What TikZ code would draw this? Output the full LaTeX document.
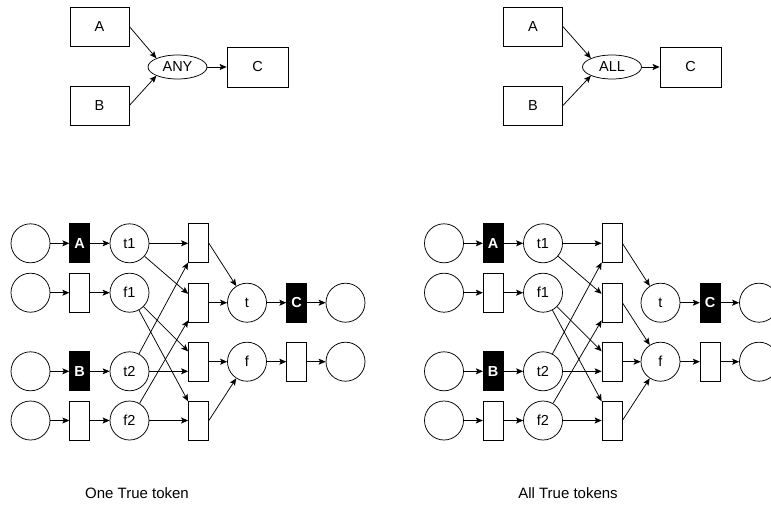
\documentclass[tikz,border=0pt]{standalone}
\usepackage{fontspec}
\setmainfont{Liberation Sans}
\usetikzlibrary{arrows.meta,shapes.geometric}
\begin{document}
\begin{tikzpicture}[x=1pt,y=-1pt,
  every node/.style={font=\fontsize{14.5}{16}\selectfont, inner sep=0pt, line width=0.75pt},
  blk/.style={draw, minimum width=59pt, minimum height=39pt},
  ov/.style={draw, ellipse, minimum width=59pt, minimum height=24pt},
  pl/.style={draw, circle, minimum size=39pt},
  tr/.style={draw, minimum width=20pt, minimum height=39pt},
  trb/.style={tr, fill=black, text=white, font=\fontsize{14.5}{16}\selectfont\bfseries},
  arr/.style={line width=0.75pt, -{Stealth[length=7pt,width=6pt,inset=1.5pt]}},
  captxt/.style={font=\fontsize{15}{18}\selectfont}]
\clip (0,0) rectangle (771,504);
\fill[white] (0,0) rectangle (771,504);
% top diagrams
\node[blk] (lA) at (99.5,26.5) {A};
\node[blk] (lB) at (99.5,105.5) {B};
\node[ov] (lany) at (177.5,67) {ANY};
\node[blk, minimum width=61pt, minimum height=40pt] (lC) at (257.5,67) {C};
\draw[arr] (lA.east) -- (lany.north west);
\draw[arr] (lB.east) -- (lany.south west);
\draw[arr] (lany) -- (lC);
\node[blk] (rA) at (533,26.5) {A};
\node[blk] (rB) at (533,105.5) {B};
\node[ov] (rall) at (612,67) {ALL};
\node[blk, minimum width=61pt, minimum height=40pt] (rC) at (690.5,67) {C};
\draw[arr] (rA.east) -- (rall.north west);
\draw[arr] (rB.east) -- (rall.south west);
\draw[arr] (rall) -- (rC);
% bottom nets
\foreach \p/\dx in {L/0,R/413.5}{
  \node[pl] (\p p1) at (\dx+30.5,243.3) {};
  \node[trb] (\p A) at (\dx+79.7,243.3) {A};
  \node[pl] (\p t1) at (\dx+129.5,243.3) {t1};
  \node[pl] (\p p2) at (\dx+30.5,292.7) {};
  \node[tr] (\p x2) at (\dx+79.7,292.7) {};
  \node[pl] (\p f1) at (\dx+129.5,292.7) {f1};
  \node[pl] (\p p3) at (\dx+30.5,371.3) {};
  \node[trb] (\p B) at (\dx+79.7,371.3) {B};
  \node[pl] (\p t2) at (\dx+129.5,371.3) {t2};
  \node[pl] (\p p4) at (\dx+30.5,420.5) {};
  \node[tr] (\p x4) at (\dx+79.7,420.5) {};
  \node[pl] (\p f2) at (\dx+129.5,420.5) {f2};
  \node[tr] (\p T1) at (\dx+198.5,243.3) {};
  \node[tr] (\p T2) at (\dx+198.5,302.7) {};
  \node[tr] (\p T3) at (\dx+198.5,361.7) {};
  \node[tr] (\p T4) at (\dx+198.5,420.5) {};
  \node[pl] (\p t) at (\dx+247,302.7) {t};
  \node[pl] (\p f) at (\dx+247,361.7) {f};
  \node[trb] (\p C) at (\dx+296.7,302.7) {C};
  \node[tr] (\p X) at (\dx+296.7,361.7) {};
  \node[pl] (\p o1) at (\dx+345.5,302.7) {};
  \node[pl] (\p o2) at (\dx+345.5,361.7) {};
  \draw[arr] (\p p1) -- (\p A);
  \draw[arr] (\p A) -- (\p t1);
  \draw[arr] (\p p2) -- (\p x2);
  \draw[arr] (\p x2) -- (\p f1);
  \draw[arr] (\p p3) -- (\p B);
  \draw[arr] (\p B) -- (\p t2);
  \draw[arr] (\p p4) -- (\p x4);
  \draw[arr] (\p x4) -- (\p f2);
  \draw[arr] (\p t1) -- (\p T1);
  \draw[arr] (\p t1) -- (\p T2);
  \draw[arr] (\p t2) -- (\p T1);
  \draw[arr] (\p t2) -- (\p t2 -| \p T3.west);
  \draw[arr] (\p f1) -- (\p T3);
  \draw[arr] (\p f1) -- (\p T4);
  \draw[arr] (\p f2) -- (\p T2);
  \draw[arr] (\p f2) -- (\p T4);
  \draw[arr] (\p T1.east) -- (\p t);
  \draw[arr] (\p T3.east) -- (\p f);
  \draw[arr] (\p T4.east) -- (\p f);
  \draw[arr] (\p t) -- (\p C);
  \draw[arr] (\p C) -- (\p o1);
  \draw[arr] (\p f) -- (\p X);
  \draw[arr] (\p X) -- (\p o2);
}
\draw[arr] (LT2.east) -- (Lt);
\draw[arr] (RT2.east) -- (Rf);
\node[captxt] (cap1) at (137,493) {One True token};
\node[captxt] (cap2) at (568,493) {All True tokens};
\end{tikzpicture}
\end{document}
